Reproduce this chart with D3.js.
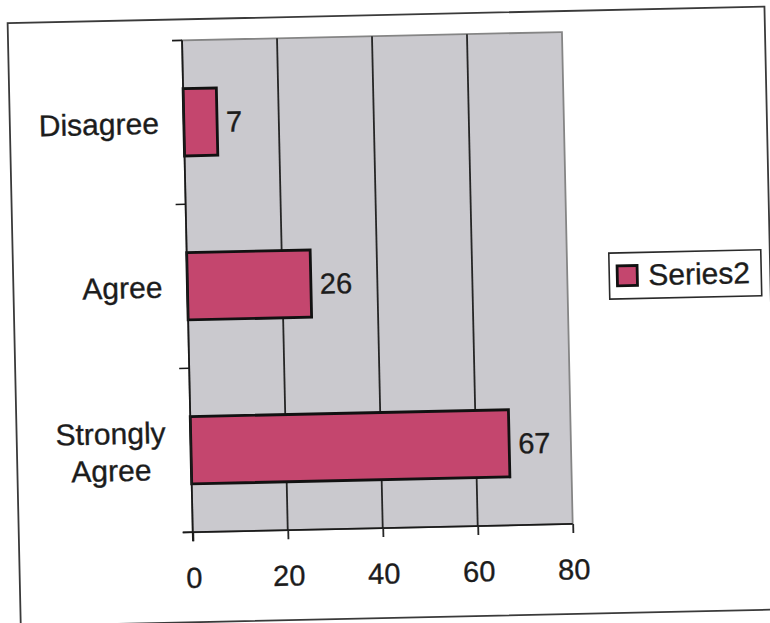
<!DOCTYPE html>
<html>
<head>
<meta charset="utf-8">
<script src="https://cdn.jsdelivr.net/npm/d3@7"></script>
<style>
  html, body { margin: 0; padding: 0; background: #fff; }
  svg { display: block; }
  text { font-family: "Liberation Sans", Arial, Helvetica, sans-serif; fill: #1c1c1c; stroke: #1c1c1c; stroke-width: 0.35px; }
</style>
</head>
<body>
<svg id="chart" width="770" height="623"></svg>
<script>
// ---- data ----
const categories = ["Disagree", "Agree", "Strongly Agree"]; // top to bottom
const values = [7, 26, 67];
const xTicks = [0, 20, 40, 60, 80];
const seriesName = "Series2";

// ---- layout ----
const W = 770, H = 623;
const plot = { left: 188, right: 568, top: 36, bottom: 528 };
const barColor = "#c4466e";
const plotBg = "#cac9ce";

const svg = d3.select("#chart");
svg.append("rect").attr("width", W).attr("height", H).attr("fill", "#fff");

// whole scanned page is slightly rotated
const g = svg.append("g").attr("transform", `rotate(-1.25, ${W / 2}, ${H / 2})`);

// outer chart border
g.append("rect")
  .attr("x", 14).attr("y", 15).attr("width", 757).attr("height", 603)
  .attr("fill", "#fff").attr("stroke", "#3a3a3a").attr("stroke-width", 1.8);

const x = d3.scaleLinear().domain([0, 80]).range([plot.left, plot.right]);
const y = d3.scaleBand().domain(categories).range([plot.top, plot.bottom]).padding(0);

// plot area background
g.append("rect")
  .attr("x", plot.left).attr("y", plot.top)
  .attr("width", plot.right - plot.left).attr("height", plot.bottom - plot.top)
  .attr("fill", plotBg).attr("stroke", "#858585").attr("stroke-width", 1.8);

// vertical gridlines
g.append("g").selectAll("line").data(xTicks.filter(d => d > 0 && d < 80)).join("line")
  .attr("x1", d => x(d)).attr("x2", d => x(d))
  .attr("y1", plot.top).attr("y2", plot.bottom)
  .attr("stroke", "#262626").attr("stroke-width", 1.8);

// bars
const barH = y.bandwidth() * 0.41;
g.append("g").selectAll("rect").data(categories).join("rect")
  .attr("x", x(0))
  .attr("y", d => y(d) + (y.bandwidth() - barH) / 2)
  .attr("width", (d, i) => x(values[i]) - x(0))
  .attr("height", barH)
  .attr("fill", barColor)
  .attr("stroke", "#111").attr("stroke-width", 2.8);

// value labels
g.append("g").selectAll("text").data(categories).join("text")
  .attr("x", (d, i) => x(values[i]) + 9)
  .attr("y", d => y(d) + y.bandwidth() / 2)
  .attr("dy", "0.36em")
  .style("font-size", "29px")
  .text((d, i) => values[i]);

// x axis
const xAxis = d3.axisBottom(x).tickValues(xTicks).tickSize(9).tickPadding(26);
const xg = g.append("g").attr("transform", `translate(0,${plot.bottom})`).call(xAxis);
xg.select(".domain").attr("stroke", "#1a1a1a").attr("stroke-width", 1.8)
  .attr("d", `M${plot.left - 10},0H${plot.right}`);
xg.selectAll(".tick line").attr("stroke", "#262626").attr("stroke-width", 1.8);
xg.selectAll(".tick text")
  .style("font-size", "29px")
  .style("font-family", '"Liberation Sans", Arial, sans-serif')
  .attr("fill", "#1c1c1c");

// y axis (line + ticks at category boundaries)
const yg = g.append("g");
yg.append("line")
  .attr("x1", plot.left).attr("x2", plot.left)
  .attr("y1", plot.top).attr("y2", plot.bottom + 9)
  .attr("stroke", "#1a1a1a").attr("stroke-width", 1.8);
const boundaries = categories.map(c => y(c)).concat([plot.bottom]);
yg.selectAll("line.tick").data(boundaries).join("line")
  .attr("class", "tick")
  .attr("x1", plot.left - 10).attr("x2", plot.left)
  .attr("y1", d => d).attr("y2", d => d)
  .attr("stroke", "#1a1a1a").attr("stroke-width", 1.6);

// category labels (wrapped, centered block, right edge 25px from axis)
const labelRight = plot.left - 25;
const lineH = 37;
categories.forEach(c => {
  const lines = c.split(" ");
  const t = yg.append("text")
    .style("font-size", "30px")
    .attr("text-anchor", "middle");
  const cy = y(c) + y.bandwidth() / 2;
  lines.forEach((ln, i) => {
    t.append("tspan")
      .attr("y", cy + (i - (lines.length - 1) / 2) * lineH)
      .attr("dy", "0.36em")
      .text(ln);
  });
  let maxW = 0;
  t.selectAll("tspan").each(function () { maxW = Math.max(maxW, this.getComputedTextLength()); });
  t.selectAll("tspan").attr("x", labelRight - maxW / 2);
});

// legend
const lg = g.append("g");
lg.append("rect")
  .attr("x", 610).attr("y", 258).attr("width", 152).attr("height", 46)
  .attr("fill", "#fff").attr("stroke", "#2a2a2a").attr("stroke-width", 1.6);
lg.append("rect")
  .attr("x", 618).attr("y", 271).attr("width", 20).attr("height", 20)
  .attr("fill", barColor).attr("stroke", "#111").attr("stroke-width", 2.8);
lg.append("text")
  .attr("x", 649).attr("y", 291)
  .style("font-size", "30px")
  .text(seriesName);
</script>
</body>
</html>
